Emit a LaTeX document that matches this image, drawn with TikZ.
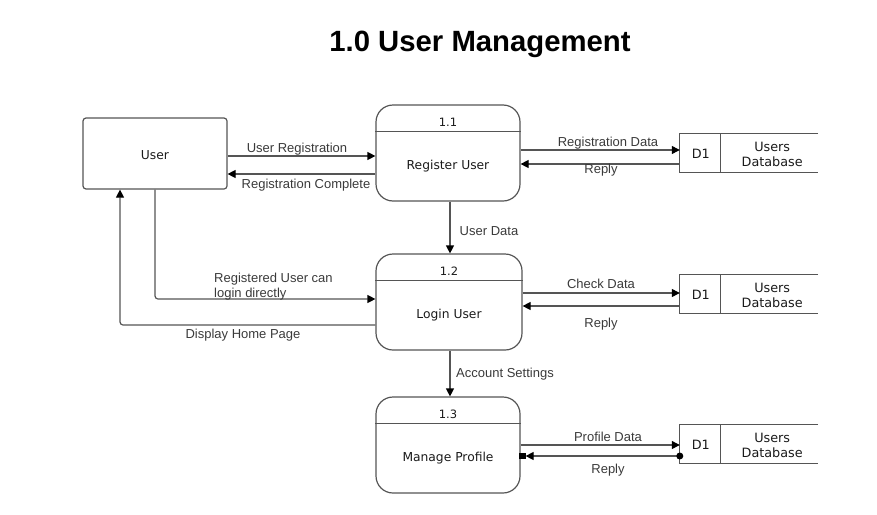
\documentclass[tikz,border=0pt]{standalone}
\usepackage{fontspec}
\setmainfont{Liberation Sans}
\newfontfamily\dv{DejaVu Sans}
\usetikzlibrary{arrows.meta,calc}
\definecolor{ln}{HTML}{555555}
\definecolor{lb}{HTML}{3A3A3A}
\definecolor{tx}{HTML}{1A1A1A}
\tikzset{
  ent/.style={draw=ln,line width=1.2pt,rounded corners=3pt,minimum width=144pt,minimum height=71pt,inner sep=0pt},
  etxt/.style={font=\dv\fontsize{12.3}{14}\selectfont,text=tx,inner sep=0pt,yshift=-1.5pt},
  proc/.style={draw=ln,line width=1.2pt,rounded corners=17pt,minimum width=144pt,minimum height=96pt,inner sep=0pt},
  pnum/.style={font=\dv\fontsize{11.5}{13}\selectfont,text=tx,inner sep=0pt,yshift=-1.5pt},
  pname/.style={font=\dv\fontsize{12.3}{14}\selectfont,text=tx,inner sep=0pt,yshift=-2.5pt},
  store/.style={minimum width=138pt,minimum height=38pt,inner sep=0pt},
  stxt/.style={font=\dv\fontsize{12.8}{15}\selectfont,text=tx,inner sep=0pt,align=center,yshift=-1pt},
  sline/.style={draw=ln,line width=1.2pt},
  flow/.style={draw=ln,line width=1.2pt,-{Triangle[length=8pt,width=8pt,color=black]}},
  lab/.style={font=\fontsize{13}{15}\selectfont,text=lb,inner sep=0pt,yshift=-2pt},
}
\begin{document}
\begin{tikzpicture}[x=1pt,y=-1pt]
\useasboundingbox (0,0) rectangle (877,514);
\node[font=\bfseries\fontsize{29.3}{33}\selectfont,inner sep=0pt] (title) at (480,44.5) {1.0 User Management};

% entity
\node[ent] (user) at (155,153.5) {};
\node[etxt] (usertxt) at (user.center) {User};

% processes
\node[proc] (p1) at (448,153) {};
\node[proc,minimum width=146pt] (p2) at (449,302) {};
\node[proc] (p3) at (448,445) {};
\foreach \p/\n/\t in {p1/1.1/Register User,p2/1.2/Login User,p3/1.3/Manage Profile}{
  \draw[sline] ([yshift=-27pt]\p.north west) -- ([yshift=-27pt]\p.north east);
  \node[pnum] (\p num) at ([yshift=-16pt]\p.north) {\n};
  \node[pname] (\p name) at ([yshift=-10.5pt]\p.center) {\t};
}

% stores
\node[store] (s1) at (749,153) {};
\node[store] (s2) at (749,294) {};
\node[store] (s3) at (749,444) {};
\foreach \s in {s1,s2,s3}{
  \draw[sline] (\s.north east) -- (\s.north west) -- (\s.south west) -- (\s.south east);
  \draw[sline] ([xshift=41pt]\s.north west) -- ([xshift=41pt]\s.south west);
  \node[stxt] (\s id) at ([xshift=21pt]\s.west) {D1};
  \node[stxt] (\s name) at ([xshift=-46pt]\s.east) {Users\\Database};
}

% flows around 1.1
\draw[flow] ([yshift=-2.5pt]user.east) -- ([yshift=-2.5pt]user.east -| p1.west);
\draw[flow] ([yshift=-21pt]p1.west) -- ([yshift=-21pt]p1.west -| user.east);
\draw[flow] ([yshift=3pt]p1.east) -- ([yshift=3pt]p1.east -| s1.west);
\draw[flow] ([yshift=-11pt]p1.east -| s1.west) -- ([yshift=-11pt]p1.east);
\draw[flow] ([xshift=2pt]p1.south) -- ([xshift=2pt]p1.south |- p2.north);

% flows around 1.2
\draw[flow,rounded corners=3pt] (user.south) |- ([yshift=3pt]p2.west);
\draw[flow,rounded corners=3pt] ([yshift=-23pt]p2.west) -| ([xshift=-35pt]user.south);
\draw[flow] ([yshift=9pt]p2.east) -- ([yshift=9pt]p2.east -| s2.west);
\draw[flow] ([yshift=-4pt]p2.east -| s2.west) -- ([yshift=-4pt]p2.east);
\draw[flow] ([xshift=1pt]p2.south) -- ([xshift=1pt]p2.south |- p3.north);

% flows around 1.3
\draw[flow] (p3.east) -- (p3.east -| s3.west);
\coordinate (r3a) at ([yshift=-11pt]p3.east -| s3.west);
\coordinate (r3b) at ([yshift=-11pt]p3.east);
\draw[flow] (r3a) -- ([xshift=5pt]r3b);
\fill[black] (r3a) circle (3.5pt);
\fill[black] ([xshift=-2pt,yshift=-3.4pt]r3b) rectangle ([xshift=5pt,yshift=3.4pt]r3b);

% labels
\node[lab] (l1) at (297,147.5) {User Registration};
\node[lab] (l2) at (306,183) {Registration Complete};
\node[lab] (l3) at (608,141) {Registration Data};
\node[lab] (l4) at (601,168) {Reply};
\node[lab] (l5) at (489,229) {User Data};
\node[lab,anchor=west,align=left] (l6) at (214,285) {Registered User can\\login directly};
\node[lab] (l7) at (243,333) {Display Home Page};
\node[lab] (l8) at (601,282) {Check Data};
\node[lab] (l9) at (601,322) {Reply};
\node[lab] (l10) at (505,372) {Account Settings};
\node[lab] (l11) at (608,435) {Profile Data};
\node[lab] (l12) at (608,468) {Reply};
\end{tikzpicture}
\end{document}
